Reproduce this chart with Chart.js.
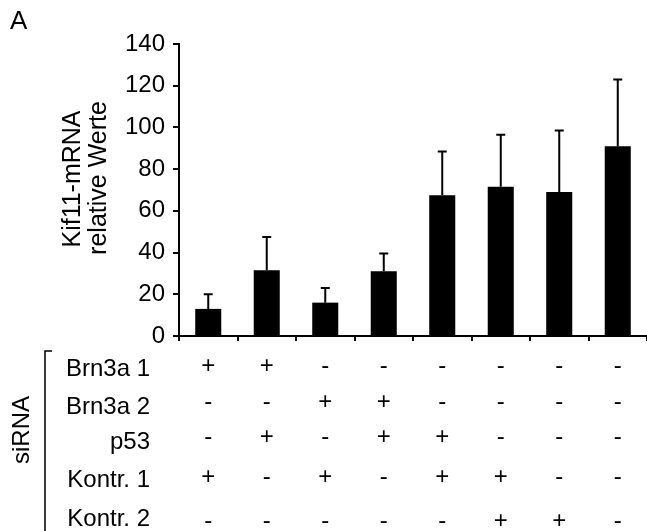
<!DOCTYPE html>
<html>
<head>
<meta charset="utf-8">
<script src="https://cdn.jsdelivr.net/npm/chart.js@4"></script>
<style>
  html, body { margin: 0; padding: 0; background: #fff; }
</style>
</head>
<body>
<canvas id="kif11" width="647" height="531"></canvas>
<script>
// Werte
const gruppen = ['1', '2', '3', '4', '5', '6', '7', '8'];
const werte = [13, 31.5, 16, 31, 67.5, 71.5, 69, 91];
const fehler = [7, 16, 7, 8.5, 21, 25, 29.5, 32];
const yTicks = [0, 20, 40, 60, 80, 100, 120, 140];

// Tabelle unter dem Diagramm (siRNA-Kombinationen)
const zeilen = ['Brn3a 1', 'Brn3a 2', 'p53', 'Kontr. 1', 'Kontr. 2'];
const brn3a1 = ['+', '+', '-', '-', '-', '-', '-', '-'];
const brn3a2 = ['-', '-', '+', '+', '-', '-', '-', '-'];
const p53 = ['-', '+', '-', '+', '+', '-', '-', '-'];
const kontr1 = ['+', '-', '+', '-', '+', '+', '-', '-'];
const kontr2 = ['-', '-', '-', '-', '-', '+', '+', '-'];
const zeichen = [brn3a1, brn3a2, p53, kontr1, kontr2];

const schrift = '"Liberation Sans", Arial, sans-serif';
Chart.defaults.font.family = schrift;
Chart.defaults.color = '#000';

// Fehlerbalken (nur nach oben)
const fehlerbalken = {
    id: 'fehlerbalken',
    afterDatasetsDraw(chart) {
        const ctx = chart.ctx;
        const y = chart.scales.y;
        const meta = chart.getDatasetMeta(0);
        ctx.save();
        ctx.strokeStyle = '#000';
        ctx.lineWidth = 2;
        meta.data.forEach((bar, i) => {
            const yOben = y.getPixelForValue(werte[i] + fehler[i]);
            ctx.beginPath();
            ctx.moveTo(bar.x, bar.y);
            ctx.lineTo(bar.x, yOben);
            ctx.moveTo(bar.x - 4.5, yOben);
            ctx.lineTo(bar.x + 4.5, yOben);
            ctx.stroke();
        });
        ctx.restore();
    }
};

// Beschriftungen: A, Achsentitel, siRNA-Tabelle
const beschriftung = {
    id: 'beschriftung',
    afterDraw(chart) {
        const ctx = chart.ctx;
        const x = chart.scales.x;
        ctx.save();
        ctx.fillStyle = '#000';

        ctx.font = '26px ' + schrift;
        ctx.textAlign = 'left';
        ctx.textBaseline = 'alphabetic';
        ctx.fillText('A', 10, 29);

        // y-Achsentitel, zweizeilig
        ctx.font = '25px ' + schrift;
        ctx.textAlign = 'center';
        ctx.textBaseline = 'middle';
        ctx.save();
        ctx.translate(73, 179);
        ctx.rotate(-Math.PI / 2);
        ctx.fillText('Kif11-mRNA', 0, 0);
        ctx.restore();
        ctx.save();
        ctx.translate(99, 178);
        ctx.rotate(-Math.PI / 2);
        ctx.fillText('relative Werte', 0, 0);
        ctx.restore();

        // siRNA + Klammer
        ctx.font = '24px ' + schrift;
        ctx.save();
        ctx.translate(22, 430);
        ctx.rotate(-Math.PI / 2);
        ctx.fillText('siRNA', 0, 0);
        ctx.restore();

        ctx.strokeStyle = '#000';
        ctx.lineWidth = 1.5;
        ctx.beginPath();
        ctx.moveTo(52, 351);
        ctx.lineTo(45, 351);
        ctx.lineTo(45, 531);
        ctx.stroke();

        // Zeilen
        const zeileY = [369, 407, 442, 480, 519];
        const zeichenY = [366, 402, 437, 477, 521];
        ctx.textAlign = 'right';
        zeilen.forEach((name, r) => {
            ctx.fillText(name, 150, zeileY[r]);
        });
        ctx.textAlign = 'center';
        zeichen.forEach((reihe, r) => {
            reihe.forEach((z, i) => {
                ctx.fillText(z, x.getPixelForValue(i), zeichenY[r]);
            });
        });
        ctx.restore();
    }
};

const ctx = document.getElementById('kif11').getContext('2d');
const diagramm = new Chart(ctx, {
    type: 'bar',
    data: {
        labels: gruppen,
        datasets: [{
            data: werte,
            backgroundColor: '#000',
            borderWidth: 0,
            barPercentage: 0.445,
            categoryPercentage: 1
        }]
    },
    options: {
        responsive: false,
        animation: false,
        devicePixelRatio: 1,
        layout: {
            padding: { left: 0, top: 44, right: 0, bottom: 190 }
        },
        plugins: {
            legend: { display: false },
            tooltip: { enabled: false }
        },
        scales: {
            x: {
                offset: true,
                grid: {
                    offset: true,
                    drawOnChartArea: false,
                    tickLength: 5,
                    color: '#000',
                    lineWidth: 2
                },
                border: { color: '#000', width: 2 },
                ticks: { display: false }
            },
            y: {
                min: 0,
                max: 140,
                afterBuildTicks: (scale) => {
                    scale.ticks = yTicks.map(v => ({ value: v }));
                },
                afterFit: (scale) => {
                    scale.width = 179;
                },
                grid: {
                    drawOnChartArea: false,
                    tickLength: 6,
                    color: '#000',
                    lineWidth: 2
                },
                border: { color: '#000', width: 2 },
                ticks: {
                    font: { size: 24 },
                    color: '#000',
                    padding: 8
                }
            }
        }
    },
    plugins: [fehlerbalken, beschriftung]
});
</script>
</body>
</html>
